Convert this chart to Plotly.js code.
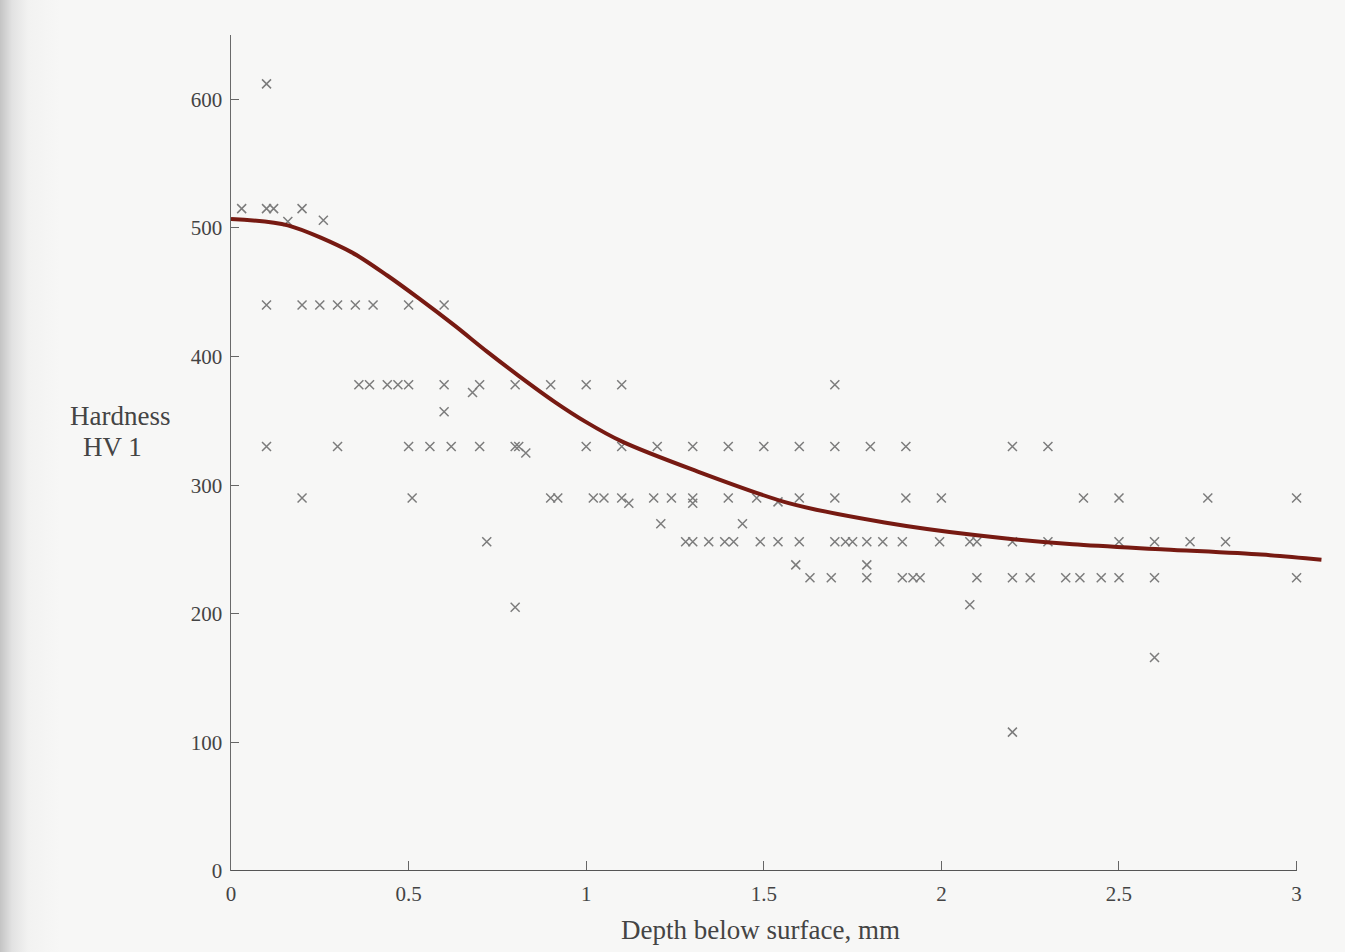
<!DOCTYPE html>
<html>
<head>
<meta charset="utf-8">
<script src="https://cdn.plot.ly/plotly-3.0.1.min.js"></script>
<style>
html,body{margin:0;padding:0;}
body{width:1345px;height:952px;background:linear-gradient(to right,#c4c4c4 0px,#e2e2e2 12px,#f2f2f1 28px,#f7f7f6 60px,#f7f7f6 100%);}
#chart{width:1345px;height:952px;}
</style>
</head>
<body>
<div id="chart"></div>
<script>
// Measured hardness points (depth mm, HV 1)
const depth = [0.03,0.1,0.1,0.12,0.1,0.1,0.16,0.2,0.2,0.2,0.26,0.25,0.3,0.3,0.35,0.36,0.39,0.4,0.44,0.47,
  0.5,0.5,0.5,0.51,0.56,0.6,0.6,0.6,0.62,0.68,0.7,0.7,0.72,0.8,0.8,0.81,0.83,0.8,0.9,0.9,
  0.92,1.0,1.0,1.02,1.05,1.1,1.1,1.1,1.12,1.2,1.19,1.24,1.21,1.28,1.3,1.3,1.3,1.3,1.345,1.39,
  1.415,1.4,1.4,1.44,1.48,1.5,1.49,1.54,1.54,1.6,1.6,1.6,1.59,1.63,1.7,1.7,1.7,1.7,1.69,1.73,
  1.75,1.8,1.79,1.79,1.79,1.835,1.9,1.9,1.89,1.89,1.92,1.94,2.0,1.995,2.08,2.1,2.08,2.1,2.2,2.2,
  2.2,2.2,2.25,2.3,2.3,2.35,2.4,2.39,2.45,2.5,2.5,2.5,2.6,2.6,2.6,2.7,2.75,2.8,3.0,3.0];
const hardness = [515,612,515,515,440,330,505,515,440,290,506,440,440,330,440,378,378,440,378,378,
  378,440,330,290,330,440,378,357,330,372,378,330,256,378,330,330,325,205,378,290,
  290,378,330,290,290,378,330,290,286,330,290,290,270,256,256,330,290,286,256,256,
  256,330,290,270,290,330,256,287,256,330,290,256,238,228,378,330,290,256,228,256,
  256,330,256,238,228,256,330,290,256,228,228,228,290,256,256,256,207,228,330,256,
  228,108,228,330,256,228,290,228,228,290,256,228,256,228,166,256,290,256,290,228];

// Fitted trend curve
const curveDepth = [0,0.16,0.34,0.44,0.53,0.63,0.72,0.81,0.91,1.0,1.1,1.3,1.57,1.84,2.1,2.37,2.63,2.9,3.07];
const curveHV    = [507,502,481,463,445,424,404,385,365,349,334,312,286,271,261,254,250,246,242];

const xTicks = [0,0.5,1,1.5,2,2.5,3];
const xTickText = ['0','0.5','1','1.5','2','2.5','3'];
const yTicks = [0,100,200,300,400,500,600];

const serif = 'Liberation Serif, Times New Roman, serif';

const traces = [
  {
    x: depth, y: hardness, type: 'scatter', mode: 'markers',
    marker: {symbol: 'x-thin', size: 9, color: '#7c7c7c', line: {width: 1.5, color: '#7c7c7c'}},
    hoverinfo: 'x+y', showlegend: false
  },
  {
    x: curveDepth, y: curveHV, type: 'scatter', mode: 'lines',
    line: {color: '#771a12', width: 4, shape: 'spline', smoothing: 0.8},
    hoverinfo: 'x+y', showlegend: false
  }
];

const layout = {
  width: 1345, height: 952,
  margin: {l: 231, r: 20, t: 35, b: 81},
  paper_bgcolor: 'rgba(0,0,0,0)',
  plot_bgcolor: 'rgba(0,0,0,0)',
  font: {family: serif, color: '#444'},
  xaxis: {
    range: [0, 3.08], showgrid: false, zeroline: false, showline: false,
    tickmode: 'array', tickvals: xTicks, ticktext: xTickText,
    ticks: 'inside', ticklen: 10, tickwidth: 1, tickcolor: '#666',
    ticklabelstandoff: 8,
    tickfont: {family: serif, size: 21, color: '#444'}
  },
  yaxis: {
    range: [0, 650], showgrid: false, zeroline: false,
    showline: true, linecolor: '#6a6a6a', linewidth: 1.5,
    tickmode: 'array', tickvals: yTicks,
    ticks: 'inside', ticklen: 8, tickwidth: 1, tickcolor: '#666',
    ticklabelstandoff: 3,
    tickfont: {family: serif, size: 21, color: '#444'}
  },
  shapes: [
    {type: 'line', xref: 'x', yref: 'y', x0: 0, x1: xTicks[xTicks.length-1], y0: 0, y1: 0,
     line: {color: '#555', width: 2}}
  ],
  annotations: [
    {text: 'Depth below surface, mm', xref: 'x', yref: 'paper', x: 1.49, y: 0, yshift: -59,
     xanchor: 'center', yanchor: 'middle', showarrow: false,
     font: {family: serif, size: 27, color: '#444'}},
    {text: 'Hardness', xref: 'paper', yref: 'y', x: 0, xshift: -111, y: 354,
     xanchor: 'center', yanchor: 'middle', showarrow: false,
     font: {family: serif, size: 27, color: '#444'}},
    {text: 'HV 1', xref: 'paper', yref: 'y', x: 0, xshift: -119, y: 330,
     xanchor: 'center', yanchor: 'middle', showarrow: false,
     font: {family: serif, size: 27, color: '#444'}}
  ]
};

Plotly.newPlot('chart', traces, layout, {displayModeBar: false, staticPlot: true});
</script>
</body>
</html>
